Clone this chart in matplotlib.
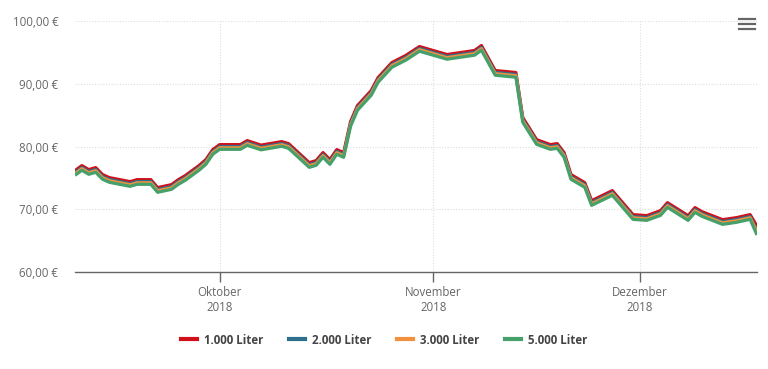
import matplotlib
matplotlib.use("Agg")
import matplotlib.pyplot as plt
import matplotlib.dates as mdates
from matplotlib.lines import Line2D
import pandas as pd

dates = ["2018-09-10", "2018-09-11", "2018-09-12", "2018-09-13", "2018-09-14", "2018-09-15",
         "2018-09-18", "2018-09-19", "2018-09-21", "2018-09-22", "2018-09-24", "2018-09-25",
         "2018-09-26", "2018-09-28", "2018-09-29", "2018-09-30", "2018-10-01", "2018-10-04",
         "2018-10-05", "2018-10-07", "2018-10-10", "2018-10-11", "2018-10-14", "2018-10-15",
         "2018-10-16", "2018-10-17", "2018-10-18", "2018-10-19", "2018-10-20", "2018-10-21",
         "2018-10-23", "2018-10-24", "2018-10-26", "2018-10-28", "2018-10-30", "2018-11-03",
         "2018-11-07", "2018-11-08", "2018-11-10", "2018-11-13", "2018-11-14", "2018-11-16",
         "2018-11-18", "2018-11-19", "2018-11-20", "2018-11-21", "2018-11-23", "2018-11-24",
         "2018-11-27", "2018-11-30", "2018-12-02", "2018-12-04", "2018-12-05", "2018-12-08",
         "2018-12-09", "2018-12-10", "2018-12-13", "2018-12-15", "2018-12-17", "2018-12-18"]

liter_1000 = [76.16, 76.96, 76.32, 76.64, 75.52, 75.04, 74.40, 74.72, 74.72, 73.45, 73.92, 74.72,
              75.36, 76.96, 77.91, 79.51, 80.30, 80.30, 80.94, 80.22, 80.78, 80.46, 77.43, 77.75,
              79.03, 77.91, 79.51, 79.03, 83.97, 86.52, 88.92, 90.99, 93.38, 94.50, 95.93, 94.66,
              95.30, 96.09, 92.11, 91.79, 84.61, 81.10, 80.30, 80.46, 79.03, 75.52, 74.24, 71.37,
              72.97, 69.14, 68.98, 69.78, 71.05, 68.98, 70.26, 69.62, 68.34, 68.66, 69.14, 67.30]
liter_2000 = [75.86, 76.66, 76.02, 76.34, 75.22, 74.74, 74.10, 74.42, 74.42, 73.15, 73.62, 74.42,
              75.06, 76.66, 77.61, 79.21, 80.00, 80.00, 80.64, 79.92, 80.48, 80.16, 77.13, 77.45,
              78.73, 77.61, 79.21, 78.73, 83.67, 86.22, 88.62, 90.69, 93.08, 94.20, 95.63, 94.36,
              95.00, 95.79, 91.81, 91.49, 84.31, 80.80, 80.00, 80.16, 78.73, 75.22, 73.94, 71.07,
              72.67, 68.84, 68.68, 69.48, 70.75, 68.68, 69.96, 69.32, 68.04, 68.36, 68.84, 66.60]
liter_3000 = [75.66, 76.46, 75.82, 76.14, 75.02, 74.54, 73.90, 74.22, 74.22, 72.95, 73.42, 74.22,
              74.86, 76.46, 77.41, 79.01, 79.80, 79.80, 80.44, 79.72, 80.28, 79.96, 76.93, 77.25,
              78.53, 77.41, 79.01, 78.53, 83.47, 86.02, 88.42, 90.49, 92.88, 94.00, 95.43, 94.16,
              94.80, 95.59, 91.61, 91.29, 84.11, 80.60, 79.80, 79.96, 78.53, 75.02, 73.74, 70.87,
              72.47, 68.64, 68.48, 69.28, 70.55, 68.48, 69.76, 69.12, 67.84, 68.16, 68.64, 66.35]
liter_5000 = [75.41, 76.21, 75.57, 75.89, 74.77, 74.29, 73.65, 73.97, 73.97, 72.70, 73.17, 73.97,
              74.61, 76.21, 77.16, 78.76, 79.55, 79.55, 80.19, 79.47, 80.03, 79.71, 76.68, 77.00,
              78.28, 77.16, 78.76, 78.28, 83.22, 85.77, 88.17, 90.24, 92.63, 93.75, 95.18, 93.91,
              94.55, 95.34, 91.36, 91.04, 83.86, 80.35, 79.55, 79.71, 78.28, 74.77, 73.49, 70.62,
              72.22, 68.39, 68.23, 69.03, 70.30, 68.23, 69.51, 68.87, 67.59, 67.91, 68.39, 65.90]

series_names = ["1.000 Liter", "2.000 Liter", "3.000 Liter", "5.000 Liter"]
series_colors = ["#d0101a", "#2f6f8e", "#f2913d", "#46a06b"]
y_ticks = [60, 70, 80, 90, 100]
x_ticks = ["2018-10-01", "2018-11-01", "2018-12-01"]
x_tick_labels = ["Oktober\n2018", "November\n2018", "Dezember\n2018"]

plt.rcParams['font.family'] = ['Open Sans', 'DejaVu Sans']

fig = plt.figure(figsize=(7.68, 3.69), dpi=100)
ax = fig.add_axes([75/768, (369-272)/369, (757-75)/768, (272-21)/369])

x = pd.to_datetime(dates)
for vals, col in zip([liter_1000, liter_2000, liter_3000, liter_5000], series_colors):
    ax.plot(x, vals, color=col, lw=2.3, solid_joinstyle='round', solid_capstyle='butt')

ax.set_ylim(60, 100)
ax.set_xlim(pd.Timestamp("2018-09-10"), pd.Timestamp("2018-12-18"))
ax.set_yticks(y_ticks)
ax.set_yticklabels([f"{v:.2f}".replace(".", ",") + " €" for v in y_ticks])
ax.set_xticks(pd.to_datetime(x_ticks))
ax.set_xticklabels(x_tick_labels)

ax.grid(True, color="#dddddd", linestyle=(0, (1, 1.5)), linewidth=0.8)
ax.set_axisbelow(True)
for s in ["left", "right", "top"]:
    ax.spines[s].set_visible(False)
ax.spines["bottom"].set_color("#666666")
ax.spines["bottom"].set_linewidth(1.0)
ax.tick_params(axis="y", length=0, pad=12, labelsize=8.3, labelcolor="#666666")
ax.tick_params(axis="x", length=7, width=1, color="#666666", pad=3, labelsize=8.3, labelcolor="#666666")
for lab in ax.get_xticklabels():
    lab.set_linespacing(1.25)

handles = [Line2D([0], [0], color=c, lw=3) for c in series_colors]
leg = fig.legend(handles, series_names, loc="center", bbox_to_anchor=(0.5, (369-340)/369),
                 ncol=4, frameon=False, handlelength=1.4, columnspacing=2.2, handletextpad=0.6,
                 prop={'size': 8.3, 'weight': 'bold'})
for t in leg.get_texts():
    t.set_color("#444444")

# menu icon
for yy in [19, 24, 29]:
    fig.add_artist(Line2D([739/768, 755/768], [(369-yy)/369]*2, color="#666666", lw=1.6,
                          transform=fig.transFigure))

fig.savefig("out.png", dpi=100)
